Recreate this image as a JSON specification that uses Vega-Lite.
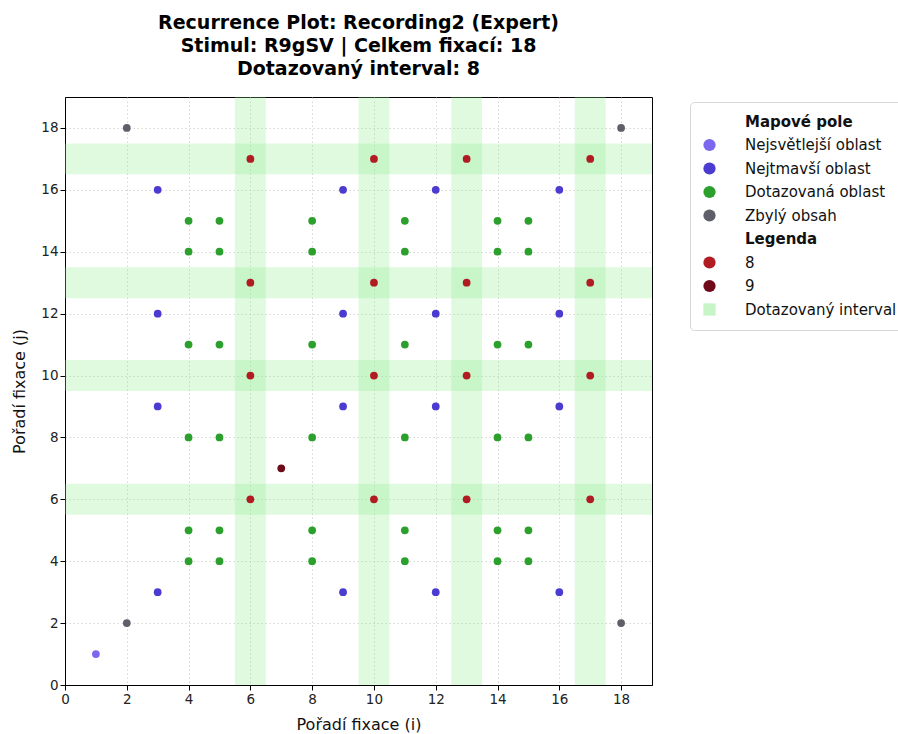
{
  "$schema": "https://vega.github.io/schema/vega-lite/v6.json",
  "width": 587,
  "height": 588,
  "autosize": {"type": "none"},
  "padding": {"left": 65, "top": 97, "right": 246, "bottom": 49},
  "background": "white",
  "config": {
    "font": "DejaVu Sans",
    "view": {"stroke": "black", "strokeWidth": 1},
    "axis": {
      "labelFont": "DejaVu Sans",
      "labelFontSize": 13.5,
      "labelColor": "#222",
      "titleFont": "DejaVu Sans",
      "titleFontSize": 16,
      "titleFontWeight": "normal",
      "titleColor": "#111",
      "domainColor": "black",
      "tickColor": "black",
      "tickSize": 5,
      "gridColor": "#cccccc",
      "gridDash": [1.5, 2.5],
      "gridWidth": 0.8
    },
    "legend": {
      "title": null,
      "orient": "none",
      "legendX": 625,
      "legendY": 5,
      "padding": 12,
      "strokeColor": "#d6d6d6",
      "fillColor": "white",
      "cornerRadius": 4,
      "labelFont": "DejaVu Sans",
      "labelFontSize": 15,
      "labelColor": "#111",
      "labelOffset": 28,
      "labelLimit": 300,
      "symbolSize": 150,
      "symbolStrokeWidth": 0,
      "rowPadding": 7.5
    }
  },
  "title": {
    "text": ["Recurrence Plot: Recording2 (Expert)", "Stimul: R9gSV | Celkem fixací: 18", "Dotazovaný interval: 8"],
    "font": "DejaVu Sans",
    "fontSize": 19,
    "fontWeight": "bold",
    "lineHeight": 23,
    "anchor": "middle",
    "color": "black",
    "offset": 18
  },
  "datasets": {
    "bands": [
      {"x1": 5.5, "x2": 6.5, "y1": 0, "y2": 19},
      {"x1": 9.5, "x2": 10.5, "y1": 0, "y2": 19},
      {"x1": 12.5, "x2": 13.5, "y1": 0, "y2": 19},
      {"x1": 16.5, "x2": 17.5, "y1": 0, "y2": 19},
      {"x1": 0, "x2": 19, "y1": 5.5, "y2": 6.5},
      {"x1": 0, "x2": 19, "y1": 9.5, "y2": 10.5},
      {"x1": 0, "x2": 19, "y1": 12.5, "y2": 13.5},
      {"x1": 0, "x2": 19, "y1": 16.5, "y2": 17.5}
    ],
    "points": [
      {"i": 1, "j": 1, "kat": "Nejsvětlejší oblast"},
      {"i": 2, "j": 2, "kat": "Zbylý obsah"},
      {"i": 2, "j": 18, "kat": "Zbylý obsah"},
      {"i": 18, "j": 2, "kat": "Zbylý obsah"},
      {"i": 18, "j": 18, "kat": "Zbylý obsah"},
      {"i": 3, "j": 3, "kat": "Nejtmavší oblast"},
      {"i": 3, "j": 9, "kat": "Nejtmavší oblast"},
      {"i": 3, "j": 12, "kat": "Nejtmavší oblast"},
      {"i": 3, "j": 16, "kat": "Nejtmavší oblast"},
      {"i": 9, "j": 3, "kat": "Nejtmavší oblast"},
      {"i": 9, "j": 9, "kat": "Nejtmavší oblast"},
      {"i": 9, "j": 12, "kat": "Nejtmavší oblast"},
      {"i": 9, "j": 16, "kat": "Nejtmavší oblast"},
      {"i": 12, "j": 3, "kat": "Nejtmavší oblast"},
      {"i": 12, "j": 9, "kat": "Nejtmavší oblast"},
      {"i": 12, "j": 12, "kat": "Nejtmavší oblast"},
      {"i": 12, "j": 16, "kat": "Nejtmavší oblast"},
      {"i": 16, "j": 3, "kat": "Nejtmavší oblast"},
      {"i": 16, "j": 9, "kat": "Nejtmavší oblast"},
      {"i": 16, "j": 12, "kat": "Nejtmavší oblast"},
      {"i": 16, "j": 16, "kat": "Nejtmavší oblast"},
      {"i": 4, "j": 4, "kat": "Dotazovaná oblast"},
      {"i": 4, "j": 5, "kat": "Dotazovaná oblast"},
      {"i": 4, "j": 8, "kat": "Dotazovaná oblast"},
      {"i": 4, "j": 11, "kat": "Dotazovaná oblast"},
      {"i": 4, "j": 14, "kat": "Dotazovaná oblast"},
      {"i": 4, "j": 15, "kat": "Dotazovaná oblast"},
      {"i": 5, "j": 4, "kat": "Dotazovaná oblast"},
      {"i": 5, "j": 5, "kat": "Dotazovaná oblast"},
      {"i": 5, "j": 8, "kat": "Dotazovaná oblast"},
      {"i": 5, "j": 11, "kat": "Dotazovaná oblast"},
      {"i": 5, "j": 14, "kat": "Dotazovaná oblast"},
      {"i": 5, "j": 15, "kat": "Dotazovaná oblast"},
      {"i": 8, "j": 4, "kat": "Dotazovaná oblast"},
      {"i": 8, "j": 5, "kat": "Dotazovaná oblast"},
      {"i": 8, "j": 8, "kat": "Dotazovaná oblast"},
      {"i": 8, "j": 11, "kat": "Dotazovaná oblast"},
      {"i": 8, "j": 14, "kat": "Dotazovaná oblast"},
      {"i": 8, "j": 15, "kat": "Dotazovaná oblast"},
      {"i": 11, "j": 4, "kat": "Dotazovaná oblast"},
      {"i": 11, "j": 5, "kat": "Dotazovaná oblast"},
      {"i": 11, "j": 8, "kat": "Dotazovaná oblast"},
      {"i": 11, "j": 11, "kat": "Dotazovaná oblast"},
      {"i": 11, "j": 14, "kat": "Dotazovaná oblast"},
      {"i": 11, "j": 15, "kat": "Dotazovaná oblast"},
      {"i": 14, "j": 4, "kat": "Dotazovaná oblast"},
      {"i": 14, "j": 5, "kat": "Dotazovaná oblast"},
      {"i": 14, "j": 8, "kat": "Dotazovaná oblast"},
      {"i": 14, "j": 11, "kat": "Dotazovaná oblast"},
      {"i": 14, "j": 14, "kat": "Dotazovaná oblast"},
      {"i": 14, "j": 15, "kat": "Dotazovaná oblast"},
      {"i": 15, "j": 4, "kat": "Dotazovaná oblast"},
      {"i": 15, "j": 5, "kat": "Dotazovaná oblast"},
      {"i": 15, "j": 8, "kat": "Dotazovaná oblast"},
      {"i": 15, "j": 11, "kat": "Dotazovaná oblast"},
      {"i": 15, "j": 14, "kat": "Dotazovaná oblast"},
      {"i": 15, "j": 15, "kat": "Dotazovaná oblast"},
      {"i": 6, "j": 6, "kat": "8"},
      {"i": 6, "j": 10, "kat": "8"},
      {"i": 6, "j": 13, "kat": "8"},
      {"i": 6, "j": 17, "kat": "8"},
      {"i": 10, "j": 6, "kat": "8"},
      {"i": 10, "j": 10, "kat": "8"},
      {"i": 10, "j": 13, "kat": "8"},
      {"i": 10, "j": 17, "kat": "8"},
      {"i": 13, "j": 6, "kat": "8"},
      {"i": 13, "j": 10, "kat": "8"},
      {"i": 13, "j": 13, "kat": "8"},
      {"i": 13, "j": 17, "kat": "8"},
      {"i": 17, "j": 6, "kat": "8"},
      {"i": 17, "j": 10, "kat": "8"},
      {"i": 17, "j": 13, "kat": "8"},
      {"i": 17, "j": 17, "kat": "8"},
      {"i": 7, "j": 7, "kat": "9"}
    ]
  },
  "layer": [
    {
      "data": {"name": "bands"},
      "mark": {"type": "rect", "opacity": 0.28, "color": "#90ee90"},
      "encoding": {
        "x": {"field": "x1", "type": "quantitative", "scale": {"domain": [0, 19], "nice": false}},
        "x2": {"field": "x2"},
        "y": {"field": "y1", "type": "quantitative", "scale": {"domain": [0, 19], "nice": false}},
        "y2": {"field": "y2"}
      }
    },
    {
      "data": {"name": "points"},
      "mark": {"type": "point", "filled": true, "opacity": 1, "size": 60},
      "encoding": {
        "x": {
          "field": "i", "type": "quantitative",
          "scale": {"domain": [0, 19], "nice": false},
          "axis": {"title": "Pořadí fixace (i)", "values": [0, 2, 4, 6, 8, 10, 12, 14, 16, 18], "grid": true, "labelFlush": false, "titlePadding": 11}
        },
        "y": {
          "field": "j", "type": "quantitative",
          "scale": {"domain": [0, 19], "nice": false},
          "axis": {"title": "Pořadí fixace (j)", "values": [0, 2, 4, 6, 8, 10, 12, 14, 16, 18], "grid": true, "labelFlush": false, "titlePadding": 13}
        },
        "color": {
          "field": "kat", "type": "nominal",
          "scale": {
            "domain": ["Mapové pole", "Nejsvětlejší oblast", "Nejtmavší oblast", "Dotazovaná oblast", "Zbylý obsah", "Legenda", "8", "9", "Dotazovaný interval"],
            "range": ["transparent", "#7b68ee", "#4b3bd1", "#2ca02c", "#5f5f6a", "transparent", "#b01c22", "#6e0a1a", "#c8f5c8"]
          },
          "legend": {
            "labelFontWeight": {"expr": "(datum.label === 'Legenda' || datum.index === 0) ? 'bold' : 'normal'"}
          }
        },
        "shape": {
          "field": "kat", "type": "nominal",
          "scale": {
            "domain": ["Mapové pole", "Nejsvětlejší oblast", "Nejtmavší oblast", "Dotazovaná oblast", "Zbylý obsah", "Legenda", "8", "9", "Dotazovaný interval"],
            "range": ["circle", "circle", "circle", "circle", "circle", "circle", "circle", "circle", "square"]
          },
          "legend": null
        }
      }
    }
  ]
}
